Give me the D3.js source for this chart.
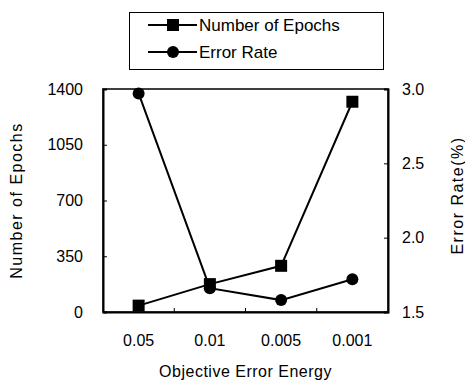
<!DOCTYPE html>
<html>
<head>
<meta charset="utf-8">
<script src="https://cdn.jsdelivr.net/npm/d3@7"></script>
<style>
  body { margin: 0; background: #fff; }
  svg { display: block; font-family: Arial, "Liberation Sans", sans-serif; }
</style>
</head>
<body>
<svg id="chart" width="465" height="380"></svg>
<script>
// data
const categories = ['0.05', '0.01', '0.005', '0.001'];
const epochs = [40, 175, 290, 1320];
const errorRate = [2.97, 1.66, 1.58, 1.72];
const epochTicks = [0, 350, 700, 1050, 1400];
const errorTicks = [1.5, 2.0, 2.5, 3.0];

const svg = d3.select('#chart');
const margin = { top: 89, right: 77, bottom: 68, left: 103 };
const width = +svg.attr('width');
const height = +svg.attr('height');

const x = d3.scaleBand()
    .domain(categories)
    .range([margin.left, width - margin.right])
    .padding(0);

const yLeft = d3.scaleLinear()
    .domain([0, 1400])
    .range([height - margin.bottom, margin.top]);

const yRight = d3.scaleLinear()
    .domain([1.5, 3.0])
    .range([height - margin.bottom, margin.top]);

const cx = d => x(d) + x.bandwidth() / 2;

// frame
svg.append('rect')
    .attr('x', margin.left)
    .attr('y', margin.top)
    .attr('width', width - margin.left - margin.right)
    .attr('height', height - margin.top - margin.bottom)
    .attr('fill', 'none')
    .attr('stroke', '#000')
    .attr('stroke-width', 1.5);

// left axis
const gl = svg.append('g')
    .attr('transform', `translate(${margin.left},0)`)
    .call(d3.axisLeft(yLeft).tickValues(epochTicks).tickSize(-4).tickPadding(20)
        .tickFormat(d3.format('d')));
gl.select('.domain').attr('stroke-width', 2);
gl.selectAll('text').attr('font-size', 16).attr('fill', '#000');

// right axis
const gr = svg.append('g')
    .attr('transform', `translate(${width - margin.right},0)`)
    .call(d3.axisRight(yRight).tickValues(errorTicks).tickSize(-4).tickPadding(14)
        .tickFormat(d3.format('.1f')));
gr.select('.domain').attr('stroke-width', 2);
gr.selectAll('text').attr('font-size', 16).attr('fill', '#000');

// bottom axis: labels at band centres, ticks at band edges
const gb = svg.append('g')
    .attr('transform', `translate(0,${height - margin.bottom})`)
    .call(d3.axisBottom(x).tickSize(0).tickPadding(23));
gb.select('.domain').attr('stroke-width', 2);
gb.selectAll('text').attr('font-size', 16).attr('fill', '#000');

gb.selectAll('.edge')
    .data(categories.slice(1))
    .enter()
    .append('line')
    .attr('class', 'edge')
    .attr('x1', d => x(d))
    .attr('x2', d => x(d))
    .attr('y1', 0)
    .attr('y2', -4)
    .attr('stroke', '#000');

// axis titles
svg.append('text')
    .attr('transform', `translate(22,${(margin.top + height - margin.bottom) / 2}) rotate(-90)`)
    .attr('text-anchor', 'middle')
    .attr('font-size', 16)
    .attr('letter-spacing', 1.5)
    .text('Number of Epochs');

svg.append('text')
    .attr('transform', `translate(463,${(margin.top + height - margin.bottom) / 2 - 5}) rotate(-90)`)
    .attr('text-anchor', 'middle')
    .attr('font-size', 16)
    .attr('letter-spacing', 1.5)
    .text('Error Rate(%)');

svg.append('text')
    .attr('x', (margin.left + width - margin.right) / 2)
    .attr('y', 377)
    .attr('text-anchor', 'middle')
    .attr('font-size', 16)
    .attr('letter-spacing', 0.5)
    .text('Objective Error Energy');

// series
const lineEpochs = d3.line()
    .x((d, i) => cx(categories[i]))
    .y(d => yLeft(d));

const lineError = d3.line()
    .x((d, i) => cx(categories[i]))
    .y(d => yRight(d));

svg.append('path')
    .datum(epochs)
    .attr('d', lineEpochs)
    .attr('fill', 'none')
    .attr('stroke', '#000')
    .attr('stroke-width', 2);

svg.append('path')
    .datum(errorRate)
    .attr('d', lineError)
    .attr('fill', 'none')
    .attr('stroke', '#000')
    .attr('stroke-width', 2);

const sq = 12;
svg.selectAll('.sq')
    .data(epochs)
    .enter()
    .append('rect')
    .attr('class', 'sq')
    .attr('x', (d, i) => cx(categories[i]) - sq / 2)
    .attr('y', d => yLeft(d) - sq / 2)
    .attr('width', sq)
    .attr('height', sq)
    .attr('fill', '#000');

svg.selectAll('.dot')
    .data(errorRate)
    .enter()
    .append('circle')
    .attr('class', 'dot')
    .attr('cx', (d, i) => cx(categories[i]))
    .attr('cy', d => yRight(d))
    .attr('r', 6)
    .attr('fill', '#000');

// legend
const legend = svg.append('g');
legend.append('rect')
    .attr('x', 129.5)
    .attr('y', 12.5)
    .attr('width', 254)
    .attr('height', 57)
    .attr('fill', '#fff')
    .attr('stroke', '#000')
    .attr('stroke-width', 1);

const legendItems = [
    { name: 'Number of Epochs', y: 25, shape: 'square' },
    { name: 'Error Rate', y: 52, shape: 'circle' }
];

legendItems.forEach(item => {
    legend.append('line')
        .attr('x1', 148).attr('x2', 197)
        .attr('y1', item.y).attr('y2', item.y)
        .attr('stroke', '#000').attr('stroke-width', 2);
    if (item.shape === 'square') {
        legend.append('rect')
            .attr('x', 173 - sq / 2).attr('y', item.y - sq / 2)
            .attr('width', sq).attr('height', sq)
            .attr('fill', '#000');
    } else {
        legend.append('circle')
            .attr('cx', 173).attr('cy', item.y).attr('r', 6)
            .attr('fill', '#000');
    }
    legend.append('text')
        .attr('x', 199)
        .attr('y', item.y)
        .attr('dy', '0.35em')
        .attr('font-size', 17)
        .text(item.name);
});
</script>
</body>
</html>
